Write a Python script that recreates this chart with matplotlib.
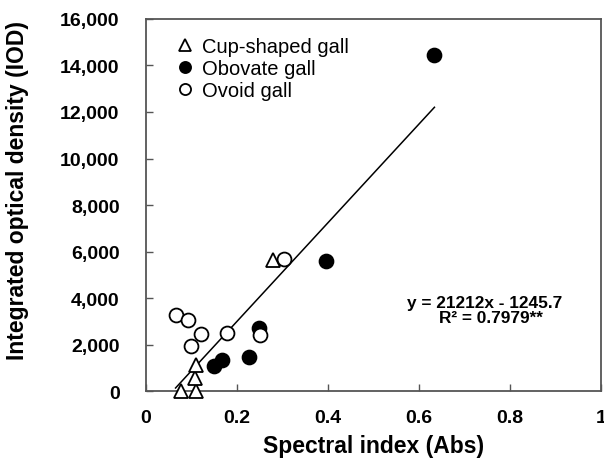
import matplotlib
matplotlib.use('Agg')
import matplotlib.pyplot as plt
from matplotlib.ticker import FuncFormatter
import numpy as np

plt.rcParams['font.family'] = ['Liberation Sans', 'DejaVu Sans']

# data
cup_x = [0.076, 0.110, 0.107, 0.110, 0.279]
cup_y = [0, 0, 560, 1130, 5635]
obo_x = [0.149, 0.166, 0.226, 0.248, 0.396, 0.634]
obo_y = [1060, 1343, 1446, 2730, 5610, 14430]
ovo_x = [0.065, 0.092, 0.120, 0.098, 0.179, 0.251, 0.303]
ovo_y = [3275, 3060, 2446, 1944, 2490, 2390, 5680]

slope = 21212
intercept = -1245.7
r2 = 0.7979

x_ticks = [0, 0.2, 0.4, 0.6, 0.8, 1.0]
x_ticklabels = ['0', '0.2', '0.4', '0.6', '0.8', '1']
y_ticks = list(range(0, 16001, 2000))

fig = plt.figure(figsize=(6.04, 4.64), dpi=100)
ax = fig.add_axes([0.2417, 0.155, 0.7533, 0.802])

ms = 10
ax.plot(cup_x, cup_y, linestyle='none', marker='^', ms=ms, mfc='white', mec='black',
        mew=1.3, label='Cup-shaped gall', zorder=3, clip_on=False)
ax.plot(obo_x, obo_y, linestyle='none', marker='o', ms=ms, mfc='black', mec='black',
        mew=1.3, label='Obovate gall', zorder=3, clip_on=False)
ax.plot(ovo_x, ovo_y, linestyle='none', marker='o', ms=ms, mfc='white', mec='black',
        mew=1.3, label='Ovoid gall', zorder=3, clip_on=False)

all_x = np.array(cup_x + obo_x + ovo_x)
fx = np.array([all_x.min(), all_x.max()])
ax.plot(fx, slope * fx + intercept, color='black', lw=1.1, zorder=2)

ax.set_xlim(0, 1)
ax.set_ylim(0, 16000)
ax.set_xticks(x_ticks)
ax.set_xticklabels(x_ticklabels)
ax.set_yticks(y_ticks)
ax.yaxis.set_major_formatter(FuncFormatter(lambda v, p: f'{int(v):,}'))

for s in ax.spines.values():
    s.set_color('#555555')
    s.set_linewidth(1.3)
ax.tick_params(direction='in', length=5, width=1, color='#555555',
               labelsize=14, pad=13)
ax.tick_params(axis='y', pad=19)
for lab in ax.get_xticklabels() + ax.get_yticklabels():
    lab.set_fontweight('bold')

ax.set_xlabel('Spectral index (Abs)', fontsize=16.5, fontweight='bold', labelpad=6)
ax.set_ylabel('Integrated optical density (IOD)', fontsize=16.5, fontweight='bold')
ax.yaxis.set_label_coords(-0.257, 0.543)

ax.legend(loc='upper left', bbox_to_anchor=(0.02, 1.0), frameon=False, fontsize=14.5,
          handletextpad=0.25, labelspacing=0.15, handlelength=1.2, markerscale=0.8)

ax.text(0.745, 0.239, f'y = {slope}x - {abs(intercept)}', transform=ax.transAxes,
        fontsize=12.4, fontweight='bold', ha='center', va='center')
ax.text(0.758, 0.199, f'R\u00b2 = {r2}**', transform=ax.transAxes,
        fontsize=12.4, fontweight='bold', ha='center', va='center')

fig.savefig('out.png', dpi=100)
